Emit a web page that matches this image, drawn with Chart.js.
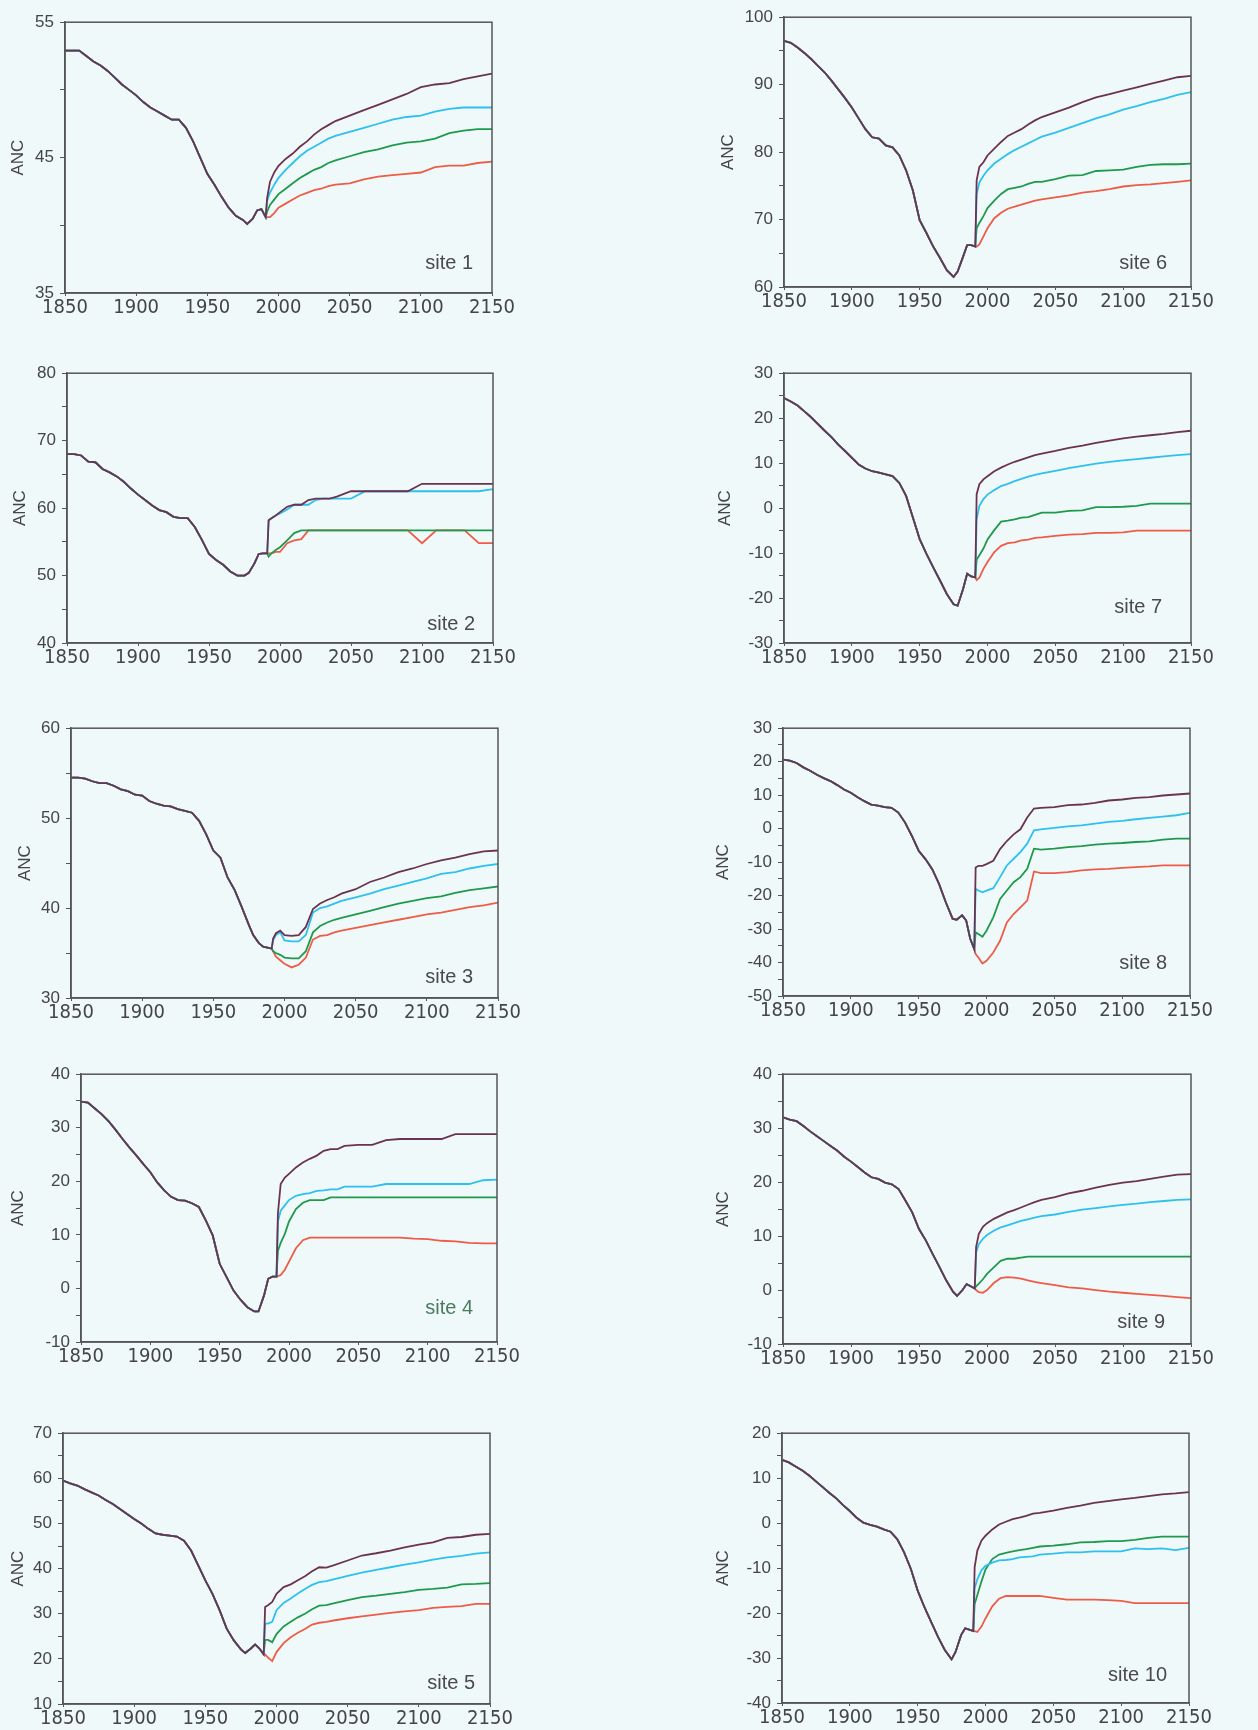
<!DOCTYPE html>
<html>
<head>
<meta charset="utf-8">
<script src="https://cdn.jsdelivr.net/npm/chart.js@4.4.1/dist/chart.umd.min.js"></script>
<style>
  html, body { margin: 0; padding: 0; background: #eff9f9; }
  body { width: 1258px; height: 1730px; position: relative; overflow: hidden; }
  .panel { position: absolute; }
</style>
</head>
<body>
<script>
// years shared by all four scenarios (history), then the scenario years
const histYears = [1850, 1855, 1860, 1865, 1870, 1875, 1880, 1885, 1890, 1895, 1900, 1905, 1910, 1915, 1920, 1925, 1930, 1935, 1940, 1945, 1950, 1955, 1960, 1965, 1970, 1975, 1978, 1982, 1985, 1988, 1991]
const futureYears = [1992, 1994, 1997, 2000, 2005, 2010, 2015, 2020, 2025, 2030, 2035, 2040, 2050, 2060, 2070, 2080, 2090, 2100, 2110, 2120, 2130, 2140, 2150]
const xTicks = [1850, 1900, 1950, 2000, 2050, 2100, 2150]

// site 1
const hist1 = [52.9, 52.9, 52.9, 52.5, 52.1, 51.8, 51.4, 50.9, 50.4, 50.0, 49.6, 49.1, 48.7, 48.4, 48.1, 47.8, 47.8, 47.2, 46.2, 45.0, 43.8, 43.0, 42.1, 41.3, 40.7, 40.4, 40.1, 40.5, 41.1, 41.2, 40.6]
const purple1 = [42.0, 43.2, 43.9, 44.4, 44.9, 45.3, 45.8, 46.2, 46.7, 47.1, 47.4, 47.7, 48.1, 48.5, 48.9, 49.3, 49.7, 50.2, 50.4, 50.5, 50.8, 51.0, 51.2]
const cyan1 = [41.8, 42.4, 43.0, 43.5, 44.1, 44.6, 45.1, 45.5, 45.8, 46.1, 46.4, 46.6, 46.9, 47.2, 47.5, 47.8, 48.0, 48.1, 48.4, 48.6, 48.7, 48.7, 48.7]
const green1 = [41.0, 41.5, 41.9, 42.3, 42.7, 43.1, 43.5, 43.8, 44.1, 44.3, 44.6, 44.8, 45.1, 45.4, 45.6, 45.9, 46.1, 46.2, 46.4, 46.8, 47.0, 47.1, 47.1]
const red1 = [40.6, 40.6, 40.9, 41.3, 41.6, 41.9, 42.2, 42.4, 42.6, 42.7, 42.9, 43.0, 43.1, 43.4, 43.6, 43.7, 43.8, 43.9, 44.3, 44.4, 44.4, 44.6, 44.7]

// site 2
const hist2 = [68.0, 68.0, 67.8, 66.9, 66.8, 65.8, 65.3, 64.7, 63.9, 62.9, 62.0, 61.2, 60.4, 59.7, 59.4, 58.7, 58.5, 58.5, 57.2, 55.3, 53.2, 52.3, 51.6, 50.6, 50.0, 50.0, 50.4, 51.8, 53.2, 53.3, 53.3]
const purple2 = [58.2, 58.5, 58.9, 59.4, 60.2, 60.5, 60.5, 61.2, 61.4, 61.4, 61.4, 61.7, 62.5, 62.5, 62.5, 62.5, 62.5, 63.6, 63.6, 63.6, 63.6, 63.6, 63.6]
const cyan2 = [58.2, 58.5, 58.9, 59.2, 59.8, 60.5, 60.5, 60.5, 61.2, 61.4, 61.4, 61.4, 61.4, 62.5, 62.5, 62.5, 62.5, 62.5, 62.5, 62.5, 62.5, 62.5, 62.8]
const green2 = [52.8, 53.3, 53.8, 54.2, 55.2, 56.3, 56.7, 56.7, 56.7, 56.7, 56.7, 56.7, 56.7, 56.7, 56.7, 56.7, 56.7, 56.7, 56.7, 56.7, 56.7, 56.7, 56.7]
const red2 = [53.3, 53.3, 53.5, 53.5, 54.8, 55.2, 55.4, 56.7, 56.7, 56.7, 56.7, 56.7, 56.7, 56.7, 56.7, 56.7, 56.7, 54.8, 56.7, 56.7, 56.7, 54.8, 54.8]

// site 3
const hist3 = [54.5, 54.5, 54.4, 54.1, 53.9, 53.9, 53.6, 53.2, 53.0, 52.6, 52.5, 51.9, 51.6, 51.4, 51.3, 51.0, 50.8, 50.6, 49.7, 48.2, 46.4, 45.6, 43.4, 42.0, 40.1, 38.1, 37.0, 36.1, 35.7, 35.6, 35.5]
const purple3 = [36.6, 37.2, 37.5, 37.0, 36.9, 37.0, 37.9, 39.9, 40.5, 40.9, 41.2, 41.6, 42.1, 42.9, 43.4, 44.0, 44.4, 44.9, 45.3, 45.6, 46.0, 46.3, 46.4]
const cyan3 = [36.4, 37.0, 37.3, 36.4, 36.3, 36.3, 37.0, 39.5, 40.0, 40.2, 40.5, 40.8, 41.2, 41.6, 42.1, 42.5, 42.9, 43.3, 43.8, 44.0, 44.4, 44.7, 44.9]
const green3 = [35.2, 35.0, 34.8, 34.5, 34.4, 34.4, 35.2, 37.3, 38.0, 38.4, 38.7, 38.9, 39.3, 39.7, 40.1, 40.5, 40.8, 41.1, 41.3, 41.7, 42.0, 42.2, 42.4]
const red3 = [35.2, 34.6, 34.2, 33.8, 33.4, 33.7, 34.5, 36.5, 36.9, 37.0, 37.3, 37.5, 37.8, 38.1, 38.4, 38.7, 39.0, 39.3, 39.5, 39.8, 40.1, 40.3, 40.6]

// site 4
const hist4 = [34.9, 34.7, 33.6, 32.5, 31.2, 29.6, 27.9, 26.3, 24.8, 23.2, 21.7, 19.8, 18.3, 17.1, 16.5, 16.4, 15.9, 15.2, 12.7, 9.9, 4.6, 2.1, -0.4, -2.1, -3.5, -4.3, -4.3, -1.3, 1.8, 2.2, 2.2]
const purple4 = [14.0, 19.5, 20.7, 21.4, 22.6, 23.5, 24.2, 24.8, 25.7, 26.0, 26.0, 26.6, 26.8, 26.8, 27.7, 27.9, 27.9, 27.9, 27.9, 28.8, 28.8, 28.8, 28.8]
const cyan4 = [12.5, 14.5, 15.5, 16.5, 17.3, 17.6, 17.8, 18.2, 18.3, 18.5, 18.5, 19.0, 19.0, 19.0, 19.5, 19.5, 19.5, 19.5, 19.5, 19.5, 19.5, 20.2, 20.3]
const green4 = [7.0, 8.5, 10.2, 12.5, 14.8, 16.0, 16.5, 16.5, 16.5, 17.0, 17.0, 17.0, 17.0, 17.0, 17.0, 17.0, 17.0, 17.0, 17.0, 17.0, 17.0, 17.0, 17.0]
const red4 = [2.3, 2.5, 3.5, 5.0, 7.5, 9.0, 9.5, 9.5, 9.5, 9.5, 9.5, 9.5, 9.5, 9.5, 9.5, 9.5, 9.3, 9.2, 8.9, 8.8, 8.5, 8.4, 8.4]

// site 5
const hist5 = [59.5, 58.9, 58.4, 57.6, 56.9, 56.2, 55.2, 54.3, 53.2, 52.1, 51.0, 50.0, 48.8, 47.8, 47.5, 47.3, 47.1, 46.2, 44.0, 40.7, 37.4, 34.4, 30.8, 26.7, 24.1, 22.1, 21.3, 22.3, 23.2, 22.3, 21.0]
const purple5 = [31.5, 31.9, 32.6, 34.4, 35.9, 36.5, 37.4, 38.3, 39.4, 40.3, 40.2, 40.7, 41.8, 42.9, 43.4, 44.0, 44.7, 45.3, 45.8, 46.8, 47.0, 47.5, 47.7]
const cyan5 = [27.8, 27.8, 28.2, 30.8, 32.4, 33.4, 34.5, 35.5, 36.4, 37.0, 37.2, 37.6, 38.4, 39.1, 39.7, 40.3, 40.9, 41.4, 42.0, 42.5, 42.8, 43.3, 43.6]
const green5 = [24.2, 24.2, 23.7, 25.5, 27.2, 28.2, 29.2, 30.0, 31.0, 31.8, 31.9, 32.3, 33.0, 33.7, 34.0, 34.4, 34.8, 35.3, 35.5, 35.8, 36.5, 36.6, 36.8]
const red5 = [21.0, 20.3, 19.5, 21.5, 23.5, 24.8, 25.8, 26.6, 27.6, 28.0, 28.2, 28.5, 29.0, 29.4, 29.8, 30.2, 30.5, 30.8, 31.3, 31.5, 31.7, 32.2, 32.2]

// site 6
const hist6 = [96.5, 96.2, 95.5, 94.7, 93.8, 92.8, 91.8, 90.6, 89.3, 88.0, 86.6, 85.0, 83.4, 82.2, 82.0, 81.0, 80.7, 79.5, 77.3, 74.3, 69.9, 68.0, 66.0, 64.3, 62.5, 61.5, 62.3, 64.5, 66.2, 66.2, 66.0]
const purple6 = [75.8, 77.8, 78.5, 79.5, 80.5, 81.5, 82.4, 82.9, 83.4, 84.1, 84.7, 85.2, 85.9, 86.6, 87.4, 88.1, 88.6, 89.1, 89.6, 90.1, 90.6, 91.1, 91.3]
const cyan6 = [73.8, 75.5, 76.5, 77.3, 78.3, 79.0, 79.7, 80.3, 80.8, 81.3, 81.8, 82.3, 82.9, 83.6, 84.3, 85.0, 85.6, 86.3, 86.8, 87.4, 87.9, 88.5, 88.9]
const green6 = [68.7, 69.5, 70.5, 71.7, 72.8, 73.8, 74.5, 74.7, 74.9, 75.3, 75.6, 75.6, 76.0, 76.5, 76.6, 77.2, 77.3, 77.4, 77.8, 78.1, 78.2, 78.2, 78.3]
const red6 = [66.0, 66.3, 67.5, 68.7, 70.2, 71.0, 71.6, 71.9, 72.2, 72.5, 72.8, 73.0, 73.3, 73.6, 74.0, 74.2, 74.5, 74.9, 75.1, 75.2, 75.4, 75.6, 75.8]

// site 7
const hist7 = [24.5, 23.7, 22.8, 21.5, 20.2, 18.7, 17.2, 15.8, 14.1, 12.7, 11.2, 9.7, 8.8, 8.2, 7.9, 7.5, 7.1, 5.6, 2.7, -2.1, -6.9, -10.2, -13.2, -16.1, -19.1, -21.4, -21.7, -18.0, -14.6, -15.2, -15.4]
const purple7 = [3.1, 5.3, 6.4, 7.1, 8.2, 9.0, 9.7, 10.3, 10.8, 11.3, 11.8, 12.1, 12.7, 13.4, 13.9, 14.5, 15.0, 15.5, 15.9, 16.2, 16.5, 16.9, 17.2]
const cyan7 = [-2.5, 0.5, 2.0, 3.0, 4.0, 4.9, 5.4, 6.0, 6.5, 7.0, 7.4, 7.7, 8.3, 8.9, 9.4, 9.9, 10.3, 10.6, 10.9, 11.2, 11.5, 11.8, 12.0]
const green7 = [-11.5, -10.5, -9.0, -7.0, -4.9, -3.0, -2.8, -2.5, -2.1, -2.0, -1.5, -1.0, -1.0, -0.6, -0.5, 0.2, 0.2, 0.3, 0.5, 1.0, 1.0, 1.0, 1.0]
const red7 = [-16.0, -15.5, -13.5, -12.0, -9.8, -8.4, -7.8, -7.6, -7.2, -7.0, -6.6, -6.5, -6.2, -5.9, -5.8, -5.5, -5.5, -5.4, -5.0, -5.0, -5.0, -5.0, -5.0]

// site 8
const hist8 = [20.6, 20.3, 19.6, 18.3, 17.3, 16.1, 15.1, 14.2, 13.0, 11.7, 10.7, 9.4, 8.2, 7.2, 6.9, 6.4, 6.2, 4.8, 1.8, -2.2, -6.6, -9.1, -12.1, -16.5, -22.0, -26.9, -27.2, -25.9, -27.4, -32.9, -36.0]
const purple8 = [-11.6, -11.1, -11.1, -10.6, -9.6, -6.1, -3.7, -1.7, -0.2, 3.3, 6.0, 6.2, 6.4, 7.0, 7.2, 7.7, 8.4, 8.7, 9.2, 9.4, 9.9, 10.2, 10.5]
const cyan8 = [-18.0, -18.5, -19.0, -18.5, -17.8, -14.5, -11.0, -9.0, -7.0, -4.5, -0.5, -0.2, 0.2, 0.7, 1.0, 1.5, 2.0, 2.3, 2.8, 3.2, 3.6, 4.0, 4.7]
const green8 = [-31.0, -31.5, -32.3, -30.5, -26.5, -21.0, -18.5, -16.0, -14.5, -12.0, -6.0, -6.3, -6.0, -5.5, -5.2, -4.8, -4.5, -4.3, -4.0, -3.8, -3.3, -3.0, -3.0]
const red8 = [-37.5, -38.5, -40.3, -39.5, -37.0, -33.5, -28.0, -25.5, -23.5, -21.5, -12.8, -13.3, -13.3, -13.0, -12.5, -12.2, -12.0, -11.7, -11.5, -11.3, -11.0, -11.0, -11.0]

// site 9
const hist9 = [32.0, 31.6, 31.3, 30.4, 29.4, 28.5, 27.6, 26.7, 25.8, 24.7, 23.8, 22.8, 21.8, 20.9, 20.6, 19.9, 19.6, 18.7, 16.6, 14.4, 11.3, 9.2, 6.7, 4.3, 1.8, -0.3, -1.1, 0.0, 1.1, 0.7, 0.3]
const purple9 = [8.0, 10.4, 11.7, 12.4, 13.2, 13.8, 14.4, 14.8, 15.3, 15.8, 16.3, 16.7, 17.2, 17.9, 18.4, 19.0, 19.5, 19.9, 20.2, 20.6, 21.0, 21.4, 21.5]
const cyan9 = [7.0, 8.5, 9.5, 10.2, 11.0, 11.6, 12.0, 12.4, 12.8, 13.1, 13.4, 13.7, 14.0, 14.5, 14.9, 15.2, 15.5, 15.8, 16.0, 16.3, 16.5, 16.7, 16.8]
const green9 = [0.7, 1.2, 2.0, 3.0, 4.2, 5.4, 5.8, 5.8, 6.0, 6.2, 6.2, 6.2, 6.2, 6.2, 6.2, 6.2, 6.2, 6.2, 6.2, 6.2, 6.2, 6.2, 6.2]
const red9 = [0.0, -0.4, -0.5, 0.0, 1.3, 2.2, 2.4, 2.3, 2.1, 1.8, 1.5, 1.3, 0.9, 0.5, 0.3, 0.0, -0.3, -0.5, -0.7, -0.9, -1.1, -1.3, -1.5]

// site 10
const hist10 = [14.1, 13.5, 12.6, 11.7, 10.6, 9.3, 8.0, 6.7, 5.5, 4.0, 2.7, 1.2, 0.1, -0.4, -0.8, -1.4, -1.9, -3.6, -6.5, -10.2, -15.0, -18.7, -22.0, -25.3, -28.2, -30.3, -28.6, -24.9, -23.4, -23.7, -24.0]
const purple10 = [-9.8, -6.1, -3.9, -2.8, -1.4, -0.3, 0.3, 0.9, 1.2, 1.6, 2.1, 2.3, 2.8, 3.4, 3.9, 4.5, 4.9, 5.3, 5.6, 6.0, 6.4, 6.6, 6.9]
const cyan10 = [-14.5, -12.5, -10.5, -9.5, -8.8, -8.3, -8.2, -8.0, -7.6, -7.5, -7.4, -7.0, -6.8, -6.5, -6.5, -6.3, -6.3, -6.3, -5.6, -5.8, -5.6, -6.0, -5.5]
const green10 = [-18.0, -16.0, -13.0, -10.3, -8.0, -7.0, -6.6, -6.3, -6.0, -5.8, -5.5, -5.2, -5.0, -4.7, -4.3, -4.2, -4.0, -4.0, -3.7, -3.3, -3.0, -3.0, -3.0]
const red10 = [-24.0, -24.2, -23.0, -21.2, -18.5, -16.8, -16.2, -16.2, -16.2, -16.2, -16.2, -16.2, -16.6, -17.0, -17.0, -17.0, -17.1, -17.3, -17.8, -17.8, -17.8, -17.8, -17.8]

const FONT = '"Liberation Sans", Arial, sans-serif'
const NARROW = '"Liberation Sans Narrow", "DejaVu Sans Condensed", "Liberation Sans", sans-serif'
const INK = '#454545'
const AXIS = '#555555'
const colors = { purple: '#6b3350', cyan: '#2ec0ee', green: '#1f9a4c', red: '#ee5c48' }

// page placement of each plot area: [left, top, right, bottom], gap = "ANC" centre to axis,
// label = [right inset, bottom inset] of the "site n" text
const panels = [
    { name: 'site 1', hist: hist1, series: [purple1, cyan1, green1, red1], yMin: 35, yMax: 55, box: [65, 21, 492, 293], gap: 47, label: [19, 30] },
    { name: 'site 6', hist: hist6, series: [purple6, cyan6, green6, red6], yMin: 60, yMax: 100, box: [784, 16, 1191, 287], gap: 56, label: [24, 24] },
    { name: 'site 2', hist: hist2, series: [purple2, cyan2, green2, red2], yMin: 40, yMax: 80, box: [67, 372, 493, 643], gap: 47, label: [18, 19] },
    { name: 'site 7', hist: hist7, series: [purple7, cyan7, green7, red7], yMin: -30, yMax: 30, box: [784, 372, 1191, 643], gap: 59, label: [29, 36] },
    { name: 'site 3', hist: hist3, series: [purple3, cyan3, green3, red3], yMin: 30, yMax: 60, box: [71, 727, 498, 998], gap: 46, label: [25, 21] },
    { name: 'site 8', hist: hist8, series: [purple8, cyan8, green8, red8], yMin: -50, yMax: 30, box: [783, 727, 1190, 996], gap: 60, label: [23, 33] },
    { name: 'site 4', hist: hist4, series: [purple4, cyan4, green4, red4], yMin: -10, yMax: 40, box: [81, 1073, 497, 1342], gap: 63, label: [24, 34], labelColor: '#4c7a5c' },
    { name: 'site 9', hist: hist9, series: [purple9, cyan9, green9, red9], yMin: -10, yMax: 40, box: [783, 1073, 1191, 1344], gap: 60, label: [26, 22] },
    { name: 'site 5', hist: hist5, series: [purple5, cyan5, green5, red5], yMin: 10, yMax: 70, box: [63, 1432, 490, 1704], gap: 45, label: [15, 21] },
    { name: 'site 10', hist: hist10, series: [purple10, cyan10, green10, red10], yMin: -40, yMax: 20, box: [782, 1432, 1189, 1703], gap: 59, label: [22, 28] },
]

const frameAndLabel = {
    id: 'frameAndLabel',
    afterDraw(chart, args, opts) {
        const { ctx, chartArea: a } = chart
        ctx.save()
        ctx.strokeStyle = AXIS
        ctx.lineWidth = 1.5
        ctx.strokeRect(a.left, a.top, a.right - a.left, a.bottom - a.top)
        ctx.font = '20px ' + FONT
        ctx.fillStyle = opts.color
        ctx.textAlign = 'right'
        ctx.textBaseline = 'middle'
        ctx.fillText(opts.text, a.right - opts.dx, a.bottom - opts.dy)
        ctx.restore()
    }
}

const TOP_PAD = 15, RIGHT_PAD = 30, X_AXIS_H = 40

panels.forEach(p => {
    const [L, T, R, B] = p.box
    const yBox = p.gap + 10
    const w = yBox + (R - L) + RIGHT_PAD
    const h = TOP_PAD + (B - T) + X_AXIS_H

    const div = document.createElement('div')
    div.className = 'panel'
    div.style.left = (L - yBox) + 'px'
    div.style.top = (T - TOP_PAD) + 'px'
    const canvas = document.createElement('canvas')
    canvas.width = w
    canvas.height = h
    canvas.style.width = w + 'px'
    canvas.style.height = h + 'px'
    div.appendChild(canvas)
    document.body.appendChild(div)

    const names = ['purple', 'cyan', 'green', 'red']
    const datasets = p.series.map((fut, i) => ({
        label: names[i],
        borderColor: colors[names[i]],
        borderWidth: 1.8,
        pointRadius: 0,
        tension: 0,
        fill: false,
        data: histYears.map((x, k) => ({ x, y: p.hist[k] }))
            .concat(futureYears.map((x, k) => ({ x, y: fut[k] }))),
    }))

    new Chart(canvas, {
        type: 'line',
        data: { datasets },
        options: {
            responsive: false,
            animation: false,
            events: [],
            layout: { padding: { left: 0, top: TOP_PAD, right: RIGHT_PAD, bottom: 0 } },
            plugins: {
                legend: { display: false },
                tooltip: { enabled: false },
                frameAndLabel: { text: p.name, dx: p.label[0], dy: p.label[1], color: p.labelColor || '#4a4a4a' },
            },
            scales: {
                x: {
                    type: 'linear',
                    min: 1850,
                    max: 2150,
                    afterBuildTicks: s => { s.ticks = xTicks.map(v => ({ value: v })) },
                    afterFit: s => { s.height = X_AXIS_H },
                    ticks: {
                        color: INK,
                        font: { family: NARROW, size: 20 },
                        padding: 0,
                        maxRotation: 0,
                        autoSkip: false,
                        callback: v => String(v),
                    },
                    grid: { drawOnChartArea: false, tickLength: 3, tickColor: AXIS },
                    border: { color: AXIS, width: 1.5 },
                },
                y: {
                    min: p.yMin,
                    max: p.yMax,
                    afterFit: s => { s.width = yBox },
                    ticks: {
                        stepSize: 5,
                        color: INK,
                        font: { family: FONT, size: 17 },
                        padding: 6,
                        autoSkip: false,
                        callback: v => ((v - p.yMin) % 10 === 0 ? String(v) : ''),
                    },
                    grid: { drawOnChartArea: false, tickLength: 5, tickColor: AXIS },
                    border: { color: AXIS, width: 1.5 },
                    title: {
                        display: true,
                        text: 'ANC',
                        color: INK,
                        padding: 0,
                        font: { family: FONT, size: 17, lineHeight: 1.2 },
                    },
                },
            },
        },
        plugins: [frameAndLabel],
    })
})
</script>
</body>
</html>
